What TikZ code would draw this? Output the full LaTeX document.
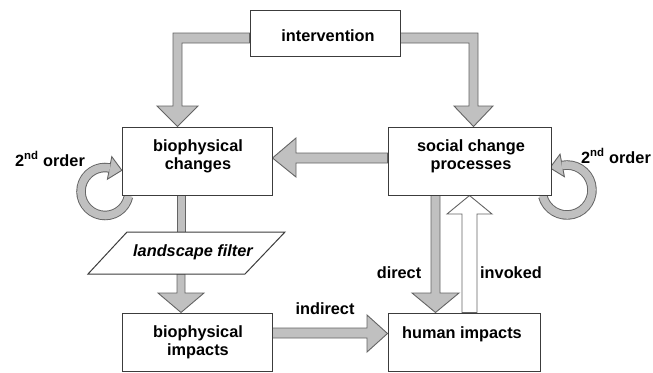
\documentclass[tikz,border=0pt]{standalone}
\usepackage{fontspec}
\setmainfont{Liberation Sans}
\usetikzlibrary{calc}
\definecolor{afill}{RGB}{192,192,192}
\definecolor{aline}{RGB}{100,100,100}
\definecolor{bline}{RGB}{60,60,60}
\begin{document}
\begin{tikzpicture}[x=1pt,y=-1pt,
  box/.style={draw=bline, line width=1pt, fill=white, inner sep=0pt},
  txt/.style={font=\fontsize{16.3}{18}\selectfont\bfseries, align=center, inner sep=0pt},
  fat/.style={fill=afill, draw=aline, line width=0.9pt, line join=miter},
  hollow/.style={fill=white, draw=aline, line width=0.9pt, line join=miter},
  ringout/.style={draw=aline, line width=9.5pt},
  ringin/.style={draw=afill, line width=7.6pt}]
\useasboundingbox (0,0) rectangle (653,372);

% boxes (positions used by the arrows)
\path (325,33) node[box, minimum width=150pt, minimum height=46pt] (interv) {};
\path (197,161) node[box, minimum width=150pt, minimum height=68pt] (bc) {};
\path (469.5,161) node[box, minimum width=163pt, minimum height=68pt] (sc) {};
\path (197,342) node[box, minimum width=150pt, minimum height=58pt] (bi) {};
\path (464,342) node[box, minimum width=152pt, minimum height=58pt] (hi) {};

% fat arrows
\draw[fat] (interv.west |- 0,33) -- (173,33) -- (173,106) -- (157,106) -- (177.5,0 |- bc.north)
  -- (198,106) -- (182,106) -- (182,43) -- (interv.west |- 0,43) -- cycle;
\draw[fat] (interv.east |- 0,33) -- (478,33) -- (478,106) -- (493,106) -- (473.5,0 |- sc.north)
  -- (454,106) -- (469,106) -- (469,43) -- (interv.east |- 0,43) -- cycle;
\draw[fat] (sc.west |- 0,153) -- (296,153) -- (296,138) -- (bc.east |- 0,158)
  -- (296,177) -- (296,163) -- (sc.west |- 0,163) -- cycle;
\draw[fat] (177,0 |- bc.south) rectangle (185,232);
\draw[fat] (177,274) -- (177,293) -- (158,293) -- (181,0 |- bi.north) -- (204,293)
  -- (185,293) -- (185,274) -- cycle;
\draw[fat] (bi.east |- 0,328) -- (367,328) -- (367,315) -- (hi.west |- 0,333.5)
  -- (367,352) -- (367,338) -- (bi.east |- 0,338) -- cycle;
\draw[fat] (431,0 |- sc.south) -- (431,293) -- (412,293) -- (435.5,0 |- hi.north)
  -- (459,293) -- (440,293) -- (440,0 |- sc.south) -- cycle;
\draw[hollow] (462,0 |- hi.north) -- (462,214) -- (447,214) -- (469.5,0 |- sc.south)
  -- (492,214) -- (477,214) -- (477,0 |- hi.north) -- cycle;

% second-order loops
\coordinate (c1) at (105,191.5);
\coordinate (c2) at (567,190);
\draw[ringout] ($(c1)+(12:24)$) arc[start angle=12, end angle=281, radius=24];
\draw[fat] ($(c1)+(281:35.5)$) -- ($(c1)+(281:24)+(11:12.5)$) -- ($(c1)+(281:12.5)$) -- cycle;
\draw[ringin] ($(c1)+(10:24)$) arc[start angle=10, end angle=281.7, radius=24];
\draw[ringout] ($(c2)+(165.5:25)$) arc[start angle=165.5, end angle=-101, radius=25];
\draw[fat] ($(c2)+(-101:36.5)$) -- ($(c2)+(-101:25)+(169:12.5)$) -- ($(c2)+(-101:13.5)$) -- cycle;
\draw[ringin] ($(c2)+(167.5:25)$) arc[start angle=167.5, end angle=-101.7, radius=25];

% redraw boxes on top
\path (325,33) node[box, minimum width=150pt, minimum height=46pt] (interv) {};
\path (197,161) node[box, minimum width=150pt, minimum height=68pt] (bc) {};
\path (469.5,161) node[box, minimum width=163pt, minimum height=68pt] (sc) {};
\path (197,342) node[box, minimum width=150pt, minimum height=58pt] (bi) {};
\path (464,342) node[box, minimum width=152pt, minimum height=58pt] (hi) {};

% landscape filter
\coordinate (lf1) at (127,232);
\coordinate (lf2) at (285,232);
\coordinate (lf3) at (245,274);
\coordinate (lf4) at (88,274);
\draw[box] (lf1) -- (lf2) -- (lf3) -- (lf4) -- cycle;

% texts
\node[txt] (tinterv) at (328,36) {intervention};
\node[txt] (tbc) at (198,156) {biophysical\\changes};
\node[txt] (tsc) at (471,156) {social change\\processes};
\node[txt] (tbi) at (198,342) {biophysical\\impacts};
\node[txt] (thi) at (462,334) {human impacts};
\node[txt, font=\fontsize{16.3}{18}\selectfont\bfseries\itshape] (tlf) at (193,252) {landscape filter};
\node[txt] (ldirect) at (399,273) {direct};
\node[txt] (linvoked) at (511,273) {invoked};
\node[txt] (lindirect) at (325,309) {indirect};
\node[txt] (lord1) at (50,159) {2\textsuperscript{nd} order};
\node[txt] (lord2) at (616,156) {2\textsuperscript{nd} order};
\end{tikzpicture}
\end{document}
